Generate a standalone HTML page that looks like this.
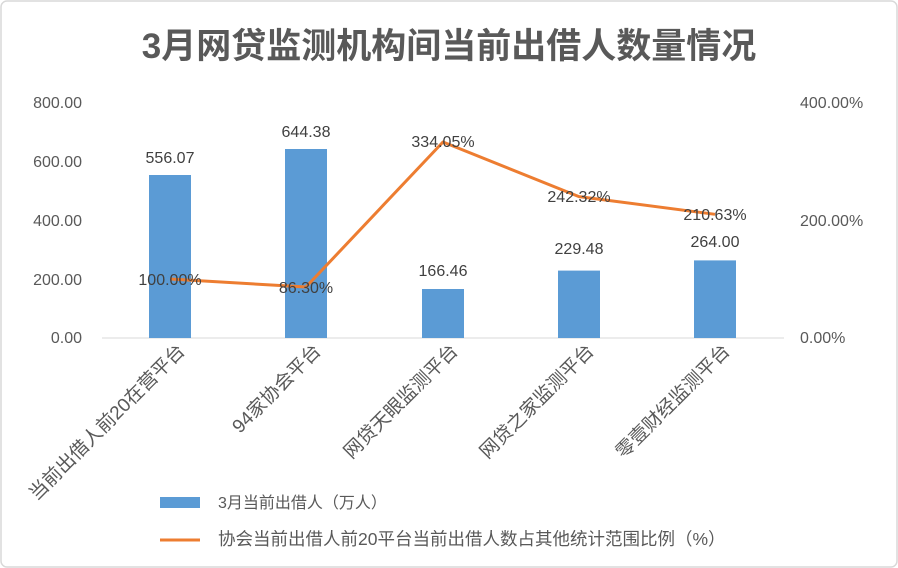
<!DOCTYPE html>
<html><head><meta charset="utf-8"><style>
body{margin:0;background:#fff;}
svg{display:block;font-family:"Liberation Sans","Noto Sans CJK SC",sans-serif;}
</style></head><body>
<svg width="898" height="568" viewBox="0 0 898 568">
<rect x="1" y="1" width="896" height="566" rx="6" fill="#fff" stroke="#d9d9d9" stroke-width="1.5"/>
<text x="449" y="58" text-anchor="middle" font-size="35" font-weight="bold" fill="#595959">3月网贷监测机构间当前出借人数量情况</text>
<g font-size="16" fill="#595959">
<text x="82" y="108" text-anchor="end">800.00</text>
<text x="82" y="167" text-anchor="end">600.00</text>
<text x="82" y="226" text-anchor="end">400.00</text>
<text x="82" y="285" text-anchor="end">200.00</text>
<text x="82" y="343" text-anchor="end">0.00</text>
<text x="800" y="108">400.00%</text>
<text x="800" y="226">200.00%</text>
<text x="800" y="343">0.00%</text>
</g>
<line x1="102" y1="338" x2="784" y2="338" stroke="#d9d9d9" stroke-width="1"/>
<g fill="#5b9bd5">
<rect x="149" y="175" width="42" height="163"/>
<rect x="285" y="149" width="42" height="189"/>
<rect x="422" y="289" width="42" height="49"/>
<rect x="558" y="270.6" width="42" height="67.4"/>
<rect x="694" y="260.4" width="42" height="77.6"/>
</g>
<g font-size="16" fill="#404040" text-anchor="middle">
<text x="170" y="163">556.07</text>
<text x="306" y="137">644.38</text>
<text x="443" y="276">166.46</text>
<text x="579" y="254">229.48</text>
<text x="715" y="247">264.00</text>
</g>
<polyline points="170,279 306,287 443,142 579,196.6 715,214.3" fill="none" stroke="#ed7d31" stroke-width="3" stroke-linejoin="round"/>
<g font-size="16" fill="#404040" text-anchor="middle">
<text x="170" y="285">100.00%</text>
<text x="306" y="293">86.30%</text>
<text x="443" y="147">334.05%</text>
<text x="579" y="202">242.32%</text>
<text x="715" y="220">210.63%</text>
</g>
<g font-size="19" fill="#595959" text-anchor="end">
<text transform="translate(186,352) rotate(-45)">当前出借人前20在营平台</text>
<text transform="translate(322,352) rotate(-45)">94家协会平台</text>
<text transform="translate(459,352) rotate(-45)">网贷天眼监测平台</text>
<text transform="translate(595,352) rotate(-45)">网贷之家监测平台</text>
<text transform="translate(731,352) rotate(-45)">零壹财经监测平台</text>
</g>
<rect x="160" y="497" width="40" height="11" fill="#5b9bd5"/>
<text x="218" y="508" font-size="16" fill="#595959">3月当前出借人（万人）</text>
<line x1="160" y1="540" x2="200" y2="540" stroke="#ed7d31" stroke-width="3"/>
<text x="218" y="545" font-size="17.5" fill="#595959">协会当前出借人前20平台当前出借人数占其他统计范围比例（%）</text>
</svg>
</body></html>
